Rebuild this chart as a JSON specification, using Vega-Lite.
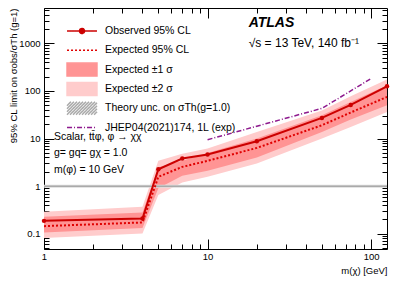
{
  "$schema": "https://vega.github.io/schema/vega-lite/v6.json",
  "width": 343,
  "height": 241,
  "autosize": {"type": "none"},
  "padding": {"left": 44, "top": 8, "right": 12, "bottom": 37},
  "background": "white",
  "config": {
    "view": {"stroke": "#000", "strokeWidth": 1},
    "font": "Liberation Sans",
    "axis": {"domain": false, "grid": false, "tickColor": "#000", "tickWidth": 1, "labelFont": "Liberation Sans", "labelFontSize": 9.5, "labelColor": "#000", "titleFont": "Liberation Sans", "titleFontSize": 9.5, "titleFontWeight": "normal", "titleColor": "#000", "labelOverlap": false, "labelFlush": false, "labelBound": false},
    "legend": {"gridAlign": "all"}
  },
  "datasets": {
    "lim": [
      {"m": 1, "obs": 0.187, "exp": 0.145, "lo1": 0.107, "hi1": 0.227, "lo2": 0.082, "hi2": 0.289},
      {"m": 4, "obs": 0.21, "exp": 0.173, "lo1": 0.133, "hi1": 0.281, "lo2": 0.102, "hi2": 0.368},
      {"m": 5, "obs": 2.27, "exp": 1.57, "lo1": 0.9, "hi1": 2.5, "lo2": 0.65, "hi2": 3.4},
      {"m": 7, "obs": 3.81, "exp": 2.54, "lo1": 1.65, "hi1": 3.4, "lo2": 1.2, "hi2": 4.8},
      {"m": 10, "obs": 4.62, "exp": 3.4, "lo1": 2.1, "hi1": 5.0, "lo2": 1.57, "hi2": 6.2},
      {"m": 20, "obs": 8.8, "exp": 6.36, "lo1": 4.0, "hi1": 10, "lo2": 3.0, "hi2": 13.8},
      {"m": 50, "obs": 27.1, "exp": 19, "lo1": 13.8, "hi1": 30.9, "lo2": 10, "hi2": 39},
      {"m": 75, "obs": 50.7, "exp": 35.2, "lo1": 25, "hi1": 58.7, "lo2": 17.5, "hi2": 77},
      {"m": 125, "obs": 125, "exp": 74.7, "lo1": 50, "hi1": 131, "lo2": 36, "hi2": 173}
    ],
    "jhep": [
      {"m": 10, "lim": 9.45},
      {"m": 50, "lim": 43},
      {"m": 100, "lim": 182}
    ]
  },
  "resolve": {"axis": {"x": "independent", "y": "independent"}},
  "layer": [
    {
      "data": {"name": "lim"},
      "mark": {"type": "area", "opacity": 1},
      "encoding": {
        "x": {"field": "m", "type": "quantitative", "scale": {"type": "log", "domain": [1, 125], "nice": false},
          "axis": {"orient": "bottom", "values": [1, 10, 100], "tickSize": -10, "labelPadding": 12,
            "labelExpr": "datum.value + ''",
            "title": "m(χ) [GeV]", "titleX": 343, "titleY": 24, "titleAlign": "right", "titleBaseline": "alphabetic"}},
        "y": {"field": "lo2", "type": "quantitative", "scale": {"type": "log", "domain": [0.048, 5500], "nice": false},
          "axis": {"orient": "left", "values": [0.1, 1, 10, 100, 1000], "tickSize": -10, "labelPadding": 14,
            "labelExpr": "datum.value + ''",
            "title": "95% CL limit on σobs/σTh (g=1)", "titleX": -31, "titleY": 0, "titleAngle": 270, "titleAlign": "right", "titleBaseline": "middle"}},
        "y2": {"field": "hi2"},
        "color": {"datum": "Expected ±2 σ", "type": "nominal",
          "scale": {"domain": ["Observed 95% CL", "Expected 95% CL", "Expected ±1 σ", "Expected ±2 σ", "Theory unc. on σTh(g=1.0)", "JHEP04(2021)174, 1L (exp)"],
                    "range": ["#cc0000", "#e00000", "#ff9494", "#ffcccc", "#aaaaaa", "#8e1a8e"]},
          "legend": {"title": null, "orient": "none", "legendX": 30, "legendY": 15, "padding": 0, "rowPadding": -0.7, "gridAlign": "all", "direction": "vertical",
            "symbolSize": 196, "symbolStrokeWidth": 1.5, "symbolOpacity": 1, "labelOffset": 15, "labelFontSize": 10.5, "labelFont": "Liberation Sans", "labelColor": "#000", "labelLimit": 0}}
      }
    },
    {
      "data": {"name": "lim"},
      "mark": {"type": "area", "opacity": 1},
      "encoding": {
        "x": {"field": "m", "type": "quantitative", "scale": {"type": "log"},
          "axis": {"orient": "bottom", "values": [2,3,4,5,6,7,8,9,20,30,40,50,60,70,80,90], "tickSize": -5, "labels": false, "title": null}},
        "y": {"field": "lo1", "type": "quantitative", "scale": {"type": "log"},
          "axis": {"orient": "left", "values": [0.05,0.06,0.07,0.08,0.09,0.2,0.3,0.4,0.5,0.6,0.7,0.8,0.9,2,3,4,5,6,7,8,9,20,30,40,50,60,70,80,90,200,300,400,500,600,700,800,900,2000,3000,4000,5000],
            "tickSize": -5, "labels": false, "title": null}},
        "y2": {"field": "hi1"},
        "color": {"datum": "Expected ±1 σ", "type": "nominal"}
      }
    },
    {
      "data": {"values": [{}]},
      "mark": {"type": "rect", "color": "#dcdcdc", "opacity": 1},
      "encoding": {
        "y": {"datum": 0.93, "type": "quantitative", "scale": {"type": "log"}, "axis": null},
        "y2": {"datum": 1.07}
      }
    },
    {
      "data": {"values": [{}]},
      "mark": {"type": "rule", "strokeWidth": 1.5},
      "encoding": {
        "y": {"datum": 1, "type": "quantitative", "scale": {"type": "log"}, "axis": null},
        "color": {"datum": "Theory unc. on σTh(g=1.0)", "type": "nominal"}
      }
    },
    {
      "data": {"name": "lim"},
      "mark": {"type": "line", "strokeWidth": 2, "strokeDash": [2, 2]},
      "encoding": {
        "x": {"field": "m", "type": "quantitative", "scale": {"type": "log"},
          "axis": {"orient": "top", "values": [1, 10, 100], "tickSize": -10, "labels": false, "title": null}},
        "y": {"field": "exp", "type": "quantitative", "scale": {"type": "log"},
          "axis": {"orient": "right", "values": [0.1, 1, 10, 100, 1000], "tickSize": -10, "labels": false, "title": null}},
        "color": {"datum": "Expected 95% CL", "type": "nominal"}
      }
    },
    {
      "data": {"name": "lim"},
      "mark": {"type": "line", "strokeWidth": 2, "point": {"filled": true, "size": 20, "opacity": 1}},
      "encoding": {
        "x": {"field": "m", "type": "quantitative", "scale": {"type": "log"},
          "axis": {"orient": "top", "values": [2,3,4,5,6,7,8,9,20,30,40,50,60,70,80,90], "tickSize": -5, "labels": false, "title": null}},
        "y": {"field": "obs", "type": "quantitative", "scale": {"type": "log"},
          "axis": {"orient": "right", "values": [0.05,0.06,0.07,0.08,0.09,0.2,0.3,0.4,0.5,0.6,0.7,0.8,0.9,2,3,4,5,6,7,8,9,20,30,40,50,60,70,80,90,200,300,400,500,600,700,800,900,2000,3000,4000,5000],
            "tickSize": -5, "labels": false, "title": null}},
        "color": {"datum": "Observed 95% CL", "type": "nominal"}
      }
    },
    {
      "data": {"name": "jhep"},
      "mark": {"type": "line", "strokeWidth": 1.5, "strokeDash": [5, 2, 1, 2]},
      "encoding": {
        "x": {"field": "m", "type": "quantitative", "scale": {"type": "log"}, "axis": null},
        "y": {"field": "lim", "type": "quantitative", "scale": {"type": "log"}, "axis": null},
        "color": {"datum": "JHEP04(2021)174, 1L (exp)", "type": "nominal"}
      }
    },
    {
      "data": {"values": []},
      "mark": {"type": "point", "filled": true},
      "encoding": {
        "color": {"datum": "Observed 95% CL", "type": "nominal"},
        "shape": {"datum": "Observed 95% CL", "type": "nominal",
          "scale": {"domain": ["Observed 95% CL", "Expected 95% CL", "Expected ±1 σ", "Expected ±2 σ", "Theory unc. on σTh(g=1.0)", "JHEP04(2021)174, 1L (exp)"],
                    "range": ["M-2.14,0H2.14M-0.36,0A0.36,0.36,0,1,1,0.36,0A0.36,0.36,0,1,1,-0.36,0Z", "M-2.14,0H2.14", "M-2.14,-0.93H2.14V0.93H-2.14Z", "M-2.14,-0.93H2.14V0.93H-2.14Z", "M-2.14,-0.36L-1.57,-0.93M-2.14,0.07L-1.14,-0.93M-2.14,0.5L-0.71,-0.93M-2.14,0.93L-0.28,-0.93M-1.71,0.93L0.15,-0.93M-1.28,0.93L0.58,-0.93M-0.85,0.93L1.01,-0.93M-0.42,0.93L1.44,-0.93M0.01,0.93L1.87,-0.93M0.44,0.93L2.14,-0.77M0.87,0.93L2.14,-0.34M1.3,0.93L2.14,0.09M1.73,0.93L2.14,0.52", "M-2.14,0H2.14"]},
          "legend": {"title": null, "orient": "none", "legendX": 30, "legendY": 15, "padding": 0, "rowPadding": -0.7, "gridAlign": "all", "direction": "vertical",
            "symbolSize": 196, "symbolStrokeWidth": 1.5, "symbolOpacity": 1, "labelOffset": 15, "labelFontSize": 10.5, "labelFont": "Liberation Sans", "labelColor": "#000", "labelLimit": 0}},
        "strokeDash": {"datum": "Observed 95% CL", "type": "nominal",
          "scale": {"domain": ["Observed 95% CL", "Expected 95% CL", "Expected ±1 σ", "Expected ±2 σ", "Theory unc. on σTh(g=1.0)", "JHEP04(2021)174, 1L (exp)"],
                    "range": [[1, 0], [2, 2], [1, 0], [1, 0], [1, 0], [5, 2, 1, 2]]},
          "legend": {"title": null, "orient": "none", "legendX": 30, "legendY": 15, "padding": 0, "rowPadding": -0.7, "gridAlign": "all", "direction": "vertical",
            "symbolSize": 196, "symbolStrokeWidth": 1.5, "symbolOpacity": 1, "labelOffset": 15, "labelFontSize": 10.5, "labelFont": "Liberation Sans", "labelColor": "#000", "labelLimit": 0}}
      }
    },
    {
      "data": {"values": [{}]},
      "mark": {"type": "text", "text": "ATLAS", "fontStyle": "italic", "fontWeight": "bold", "fontSize": 14, "align": "left", "baseline": "middle", "color": "#000"},
      "encoding": {
        "x": {"datum": 17.84, "type": "quantitative", "scale": {"type": "log"}, "axis": null},
        "y": {"datum": 2690, "type": "quantitative", "scale": {"type": "log"}, "axis": null}
      }
    },
    {
      "data": {"values": [{}]},
      "mark": {"type": "text", "text": "√s = 13 TeV, 140 fb⁻¹", "fontSize": 12, "align": "left", "baseline": "middle", "color": "#000"},
      "encoding": {
        "x": {"datum": 17.84, "type": "quantitative", "scale": {"type": "log"}, "axis": null},
        "y": {"datum": 1000, "type": "quantitative", "scale": {"type": "log"}, "axis": null}
      }
    },
    {
      "data": {"values": [{}]},
      "mark": {"type": "text", "text": "Scalar, tt̄φ, φ → χχ", "fontSize": 10.5, "align": "left", "baseline": "middle", "color": "#000"},
      "encoding": {
        "x": {"datum": 1.15, "type": "quantitative", "scale": {"type": "log"}, "axis": null},
        "y": {"datum": 10.9, "type": "quantitative", "scale": {"type": "log"}, "axis": null}
      }
    },
    {
      "data": {"values": [{}]},
      "mark": {"type": "text", "text": "g= gq= gχ = 1.0", "fontSize": 10.5, "align": "left", "baseline": "middle", "color": "#000"},
      "encoding": {
        "x": {"datum": 1.15, "type": "quantitative", "scale": {"type": "log"}, "axis": null},
        "y": {"datum": 4.92, "type": "quantitative", "scale": {"type": "log"}, "axis": null}
      }
    },
    {
      "data": {"values": [{}]},
      "mark": {"type": "text", "text": "m(φ) = 10 GeV", "fontSize": 10.5, "align": "left", "baseline": "middle", "color": "#000"},
      "encoding": {
        "x": {"datum": 1.15, "type": "quantitative", "scale": {"type": "log"}, "axis": null},
        "y": {"datum": 2.17, "type": "quantitative", "scale": {"type": "log"}, "axis": null}
      }
    }
  ]
}
